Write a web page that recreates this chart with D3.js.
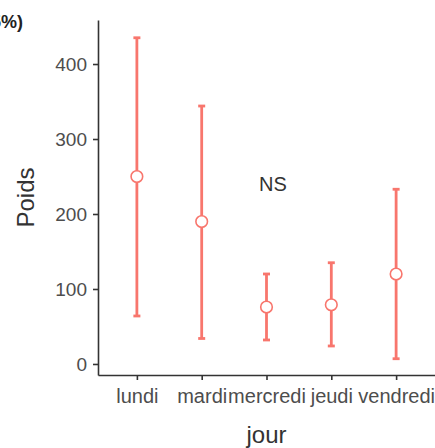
<!DOCTYPE html>
<html>
<head>
<meta charset="utf-8">
<script src="https://cdn.jsdelivr.net/npm/d3@7"></script>
<style>
  html, body { margin: 0; padding: 0; background: #fff; }
  svg { display: block; font-family: "Liberation Sans", Arial, Helvetica, sans-serif; }
</style>
</head>
<body>
<svg id="chart" width="435" height="448"></svg>
<script>
// Mean weight per weekday with 95% confidence interval
const jours = ["lundi", "mardi", "mercredi", "jeudi", "vendredi"];
const moyenne = [250, 190, 76, 79, 120];
const icBas = [64, 34, 32, 24, 7];
const icHaut = [435, 344, 120, 135, 233];
const yTicks = [0, 100, 200, 300, 400];

const couleur = "#F8766D";
const texteAxe = "#4D4D4D";

const svg = d3.select("#chart");
const panel = { left: 98, right: 435, top: 20, bottom: 375 };

const x = d3.scalePoint()
  .domain(jours)
  .range([panel.left, panel.right])
  .padding(0.6);

const y = d3.scaleLinear()
  .domain([-14.7, 458.7])
  .range([panel.bottom, panel.top]);

// Axes
const yAxis = svg.append("g")
  .attr("transform", `translate(${panel.left},0)`)
  .call(d3.axisLeft(y).tickValues(yTicks).tickSize(5).tickPadding(6).tickSizeOuter(0));
const xAxis = svg.append("g")
  .attr("transform", `translate(0,${panel.bottom})`)
  .call(d3.axisBottom(x).tickSize(5).tickPadding(9).tickSizeOuter(0));

[yAxis, xAxis].forEach(g => {
  g.select(".domain").attr("stroke", "#333").attr("stroke-width", 1.6);
  g.selectAll(".tick line").attr("stroke", "#333").attr("stroke-width", 1.6);
  g.selectAll(".tick text")
    .attr("fill", texteAxe)
    .style("font-family", "'Liberation Sans', Arial, sans-serif");
});
yAxis.selectAll(".tick text").attr("dy", "0.36em").style("font-size", "19px");
xAxis.selectAll(".tick text").style("font-size", "20px");

// Axis titles
svg.append("text")
  .attr("x", (panel.left + panel.right) / 2)
  .attr("y", 443)
  .attr("text-anchor", "middle")
  .attr("fill", "#333")
  .style("font-size", "24px")
  .text("jour");

svg.append("text")
  .attr("transform", `translate(34,${(panel.top + panel.bottom) / 2}) rotate(-90)`)
  .attr("text-anchor", "middle")
  .attr("fill", "#333")
  .style("font-size", "24px")
  .text("Poids");

// Title (starts left of the canvas)
svg.append("text")
  .attr("x", 23)
  .attr("y", 28)
  .attr("text-anchor", "end")
  .attr("fill", "#222")
  .style("font-size", "18px")
  .style("font-weight", "bold")
  .text("Poids moyen par jour (IC 95%)");

// Error bars
const data = jours.map((j, i) => ({ jour: j, m: moyenne[i], lo: icBas[i], hi: icHaut[i] }));
const capW = 3.5;
const g = svg.append("g");

g.selectAll("line.bar")
  .data(data).join("line")
  .attr("class", "bar")
  .attr("x1", d => x(d.jour)).attr("x2", d => x(d.jour))
  .attr("y1", d => y(d.lo)).attr("y2", d => y(d.hi))
  .attr("stroke", couleur).attr("stroke-width", 2.8);

["lo", "hi"].forEach(k => {
  g.selectAll("line.cap-" + k)
    .data(data).join("line")
    .attr("class", "cap-" + k)
    .attr("x1", d => x(d.jour) - capW).attr("x2", d => x(d.jour) + capW)
    .attr("y1", d => y(d[k])).attr("y2", d => y(d[k]))
    .attr("stroke", couleur).attr("stroke-width", 2.8);
});

g.selectAll("circle")
  .data(data).join("circle")
  .attr("cx", d => x(d.jour))
  .attr("cy", d => y(d.m))
  .attr("r", 5.8)
  .attr("fill", "#fff")
  .attr("stroke", couleur)
  .attr("stroke-width", 1.6);

// Significance note
svg.append("text")
  .attr("x", 273)
  .attr("y", y(240) + 7)
  .attr("text-anchor", "middle")
  .attr("fill", "#333")
  .style("font-size", "20px")
  .text("NS");
</script>
</body>
</html>
